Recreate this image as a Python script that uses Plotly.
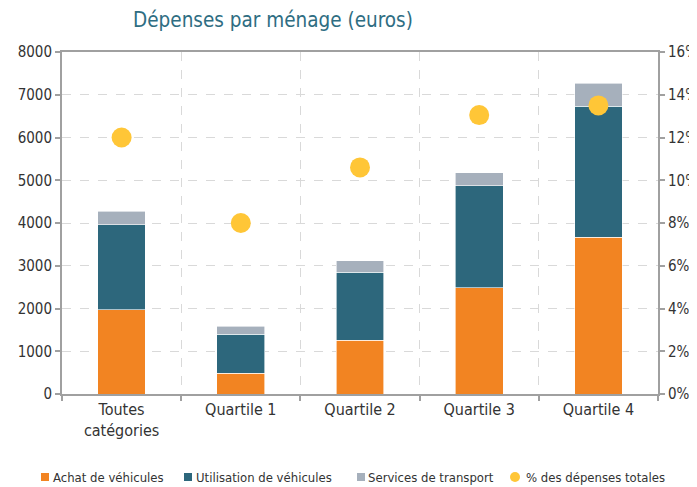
import plotly.graph_objects as go

categories = ["Toutes<br>catégories", "Quartile 1", "Quartile 2", "Quartile 3", "Quartile 4"]
achat = [1970, 480, 1260, 2490, 3670]
utilisation = [1990, 920, 1590, 2380, 3060]
services = [320, 180, 265, 300, 535]
pct = [12.0, 8.0, 10.6, 13.05, 13.5]

series_names = ["Achat de véhicules", "Utilisation de véhicules", "Services de transport", "% des dépenses totales"]
colors = ["#f28422", "#2d677c", "#a6b0bc", "#ffc637"]

font_family = "DejaVu Sans Condensed, Liberation Sans Narrow, sans-serif"

# the page body has an 8px margin; the figure is sized to fit the window
OFF = 8
W, H = 697 - OFF, 487 - OFF
# target plot area in window pixels
X0, X1, Y0, Y1 = 62, 658, 52, 394
L, R, T, B = X0 - OFF, W - (X1 - OFF), Y0 - OFF, H - (Y1 - OFF)
pw, ph = W - L - R, H - T - B


def px(x):
    return (x - OFF - L) / pw


def py(y):
    return (H - B - (y - OFF)) / ph


fig = go.Figure()
for vals, name, col in zip([achat, utilisation, services], series_names[:3], colors[:3]):
    fig.add_trace(go.Bar(x=categories, y=vals, name=name,
                         marker=dict(color=col, line=dict(color="white", width=0.6))))
fig.add_trace(go.Scatter(x=categories, y=pct, name=series_names[3], mode="markers",
                         yaxis="y2", marker=dict(color=colors[3], size=20)))

# custom legend (positions in window pixels)
leg_y = 477
legend_items = [(41, 51, "square"), (184, 194, "square"), (357, 366, "square"), (515, 524, "circle")]
shapes = []
annotations = []
for (sx, tx, kind), name, col in zip(legend_items, series_names, colors):
    if kind == "square":
        shapes.append(dict(type="rect", xref="paper", yref="paper",
                           x0=px(sx), x1=px(sx + 8), y0=py(leg_y + 4), y1=py(leg_y - 4),
                           fillcolor=col, line=dict(width=0)))
    else:
        shapes.append(dict(type="circle", xref="paper", yref="paper",
                           x0=px(sx - 5), x1=px(sx + 5), y0=py(leg_y + 5), y1=py(leg_y - 5),
                           fillcolor=col, line=dict(width=0)))
    annotations.append(dict(text=name, xref="paper", yref="paper", x=px(tx), y=py(leg_y),
                            xanchor="left", yanchor="middle", showarrow=False,
                            font=dict(size=13, color="#333", family=font_family)))

fig.update_layout(
    width=W, height=H,
    barmode="stack", bargap=0.6,
    plot_bgcolor="white", paper_bgcolor="white",
    margin=dict(l=L, r=R, t=T, b=B, autoexpand=False),
    showlegend=False,
    font=dict(family=font_family, size=15, color="#333"),
    title=dict(text="Dépenses par ménage (euros)", x=(273 - OFF) / W, xanchor="center",
               y=1 - (20 - OFF) / H, yanchor="middle",
               font=dict(size=20.5, color="#2e6d82", family=font_family)),
    xaxis=dict(tickson="boundaries", showgrid=True, griddash="dash", gridcolor="#d9d9d9",
               showline=True, linecolor="#a0a0a0", linewidth=2, mirror=True,
               ticks="outside", ticklen=5, tickcolor="#a0a0a0", tickwidth=1.5,
               tickfont=dict(size=16), automargin=False),
    yaxis=dict(range=[0, 8000], dtick=1000, showgrid=True, griddash="dash", gridcolor="#d9d9d9",
               showline=True, linecolor="#a0a0a0", linewidth=2, ticks="outside", ticklen=5,
               tickcolor="#a0a0a0", tickwidth=1.5, zeroline=False, automargin=False),
    yaxis2=dict(range=[0, 16], dtick=2, overlaying="y", side="right", ticksuffix="%",
                showgrid=False, showline=True, linecolor="#a0a0a0", linewidth=2, ticks="outside",
                ticklen=5, tickcolor="#a0a0a0", tickwidth=1.5, zeroline=False, automargin=False),
    shapes=shapes,
    annotations=annotations,
)

fig.write_html("out.html")
